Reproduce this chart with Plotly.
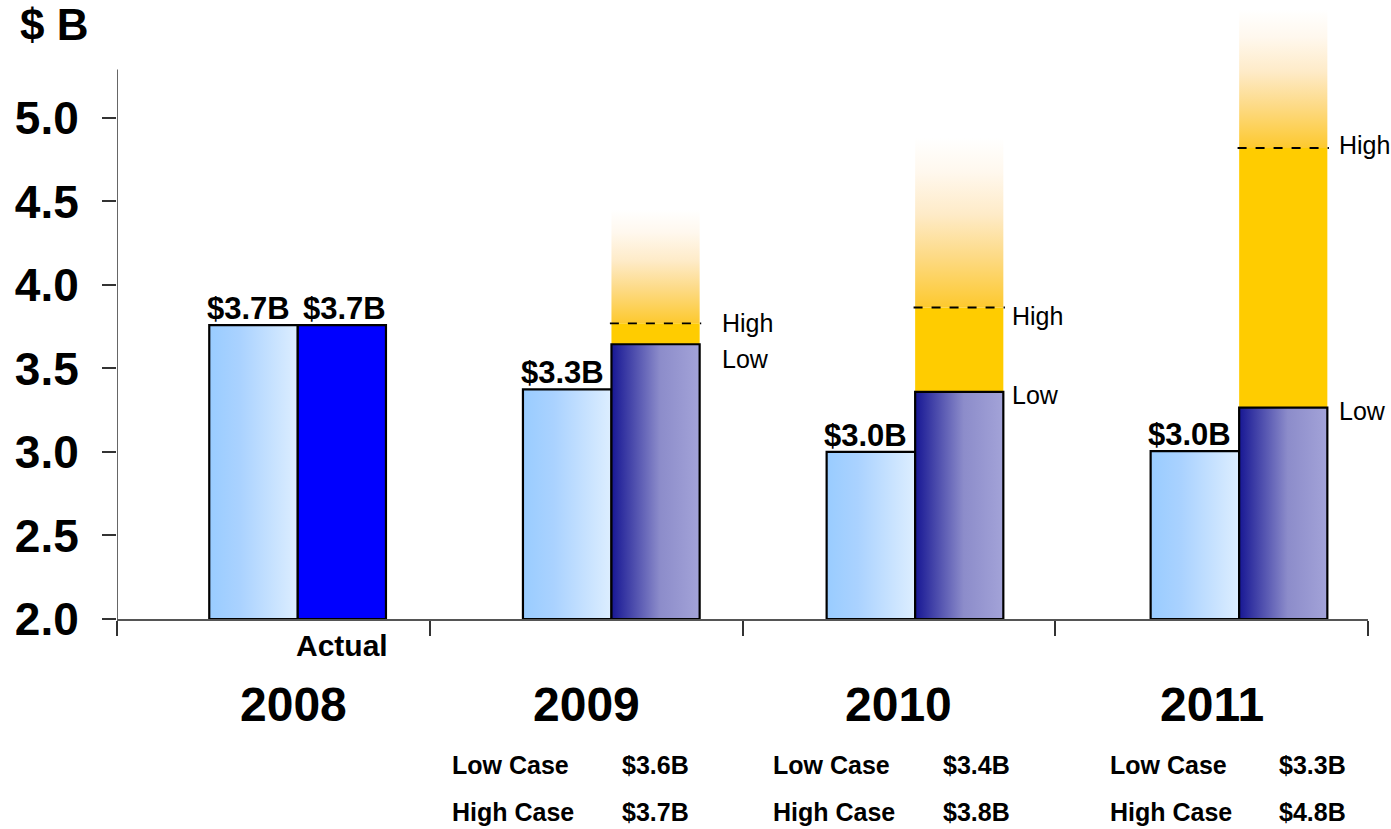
import plotly.graph_objects as go

# data
years = ["2008", "2009", "2010", "2011"]
prior_plan = [3.76, 3.375, 3.0, 3.005]          # light blue bars
prior_labels = ["$3.7B", "$3.3B", "$3.0B", "$3.0B"]
actual_2008 = 3.76
actual_label = "$3.7B"
low_case = [3.645, 3.36, 3.265]                 # 2009..2011 forecast bars
high_case = [3.77, 3.865, 4.82]
fade_top = [4.45, 4.88, 5.65]
low_case_text = ["$3.6B", "$3.4B", "$3.3B"]
high_case_text = ["$3.7B", "$3.8B", "$4.8B"]

FONT = "Liberation Sans, Arial, sans-serif"
YELLOW = "#FFCC00"

# bar geometry (category units), plus small per-year nudges seen in the original
L0, L1, D1 = -0.205, 0.078, 0.36
bar_shift = [0.0, 0.003, -0.026, 0.01]


def rect(x0, x1, y0, y1, **kw):
    return go.Scatter(x=[x0, x1, x1, x0, x0], y=[y0, y0, y1, y1, y0],
                      mode="lines", fill="toself", hoverinfo="skip",
                      showlegend=False, **kw)


fig = go.Figure()

light_grad = dict(type="horizontal",
                  colorscale=[[0, "#99CCFF"], [0.35, "#AAD2FF"], [1, "#DDEEFF"]])
dark_grad = dict(type="horizontal",
                 colorscale=[[0, "#171794"], [0.55, "#8C8CCA"], [1, "#A3A3D8"]])
fade_grad = dict(type="vertical",
                 colorscale=[[0, "#FDC92E"], [0.3, "#FDDA85"], [0.55, "#FEEBC8"],
                             [0.8, "#FFF8EE"], [1, "#FFFFFF"]])

# yellow range between low and high case, fading above the high case
for k in range(len(low_case)):
    c = k + 1 + bar_shift[k + 1]
    fig.add_trace(rect(c + L1, c + D1, low_case[k], high_case[k],
                       fillcolor=YELLOW, line=dict(width=0)))
    fig.add_trace(rect(c + L1, c + D1, high_case[k], fade_top[k],
                       fillgradient=fade_grad, line=dict(width=0)))

# light blue bars
for i, v in enumerate(prior_plan):
    c = i + bar_shift[i]
    fig.add_trace(rect(c + L0, c + L1, 2.0, v, fillgradient=light_grad,
                       line=dict(color="black", width=2.2)))

# 2008 actual
fig.add_trace(rect(L1, D1, 2.0, actual_2008, fillcolor="#0000FF",
                   line=dict(color="black", width=2.2)))

# forecast (low case) bars
for k, v in enumerate(low_case):
    c = k + 1 + bar_shift[k + 1]
    fig.add_trace(rect(c + L1, c + D1, 2.0, v, fillgradient=dark_grad,
                       line=dict(color="black", width=2.2)))

# dashed high-case markers
for k, v in enumerate(high_case):
    c = k + 1 + bar_shift[k + 1]
    fig.add_trace(go.Scatter(x=[c + L1 - 0.005, c + D1 + 0.005], y=[v, v], mode="lines",
                             line=dict(color="black", width=1.8, dash="dash"),
                             hoverinfo="skip", showlegend=False))

ann = []
bold = dict(family=FONT, color="black", weight="bold")

# value labels above bars
for i, v in enumerate(prior_plan):
    c = i + bar_shift[i]
    ann.append(dict(x=c + (L0 + L1) / 2, y=v, text=prior_labels[i], showarrow=False,
                    xanchor="center", yanchor="bottom", xshift=-5, yshift=-3,
                    font=dict(size=31, **bold)))
ann.append(dict(x=(L1 + D1) / 2, y=actual_2008, text=actual_label, showarrow=False,
                xanchor="center", yanchor="bottom", xshift=3, yshift=-3,
                font=dict(size=31, **bold)))
ann.append(dict(x=(L1 + D1) / 2, y=0, yref="paper", text="Actual", showarrow=False,
                xanchor="center", yanchor="middle", yshift=-26,
                font=dict(size=30, **bold)))

# High / Low tags
high_dx, high_dy = [20, 7, 10], [0, -9, 3]
low_dx, low_dy = [20, 7, 10], [-15, -3, -3]
for k in range(len(low_case)):
    c = k + 1 + bar_shift[k + 1]
    ann.append(dict(x=c + D1, y=high_case[k], text="High", showarrow=False,
                    xanchor="left", yanchor="middle", xshift=high_dx[k], yshift=high_dy[k],
                    font=dict(family=FONT, size=25, color="black")))
    ann.append(dict(x=c + D1, y=low_case[k], text="Low", showarrow=False,
                    xanchor="left", yanchor="middle", xshift=low_dx[k], yshift=low_dy[k],
                    font=dict(family=FONT, size=25, color="black")))

# year labels
year_dx = [20, 0, 0, 0]
for i, yr in enumerate(years):
    ann.append(dict(x=i, y=0, yref="paper", text=yr, showarrow=False,
                    xanchor="center", yanchor="middle", xshift=year_dx[i], yshift=-85,
                    font=dict(size=48, **bold)))

# low / high case table
case_label_x = [0.565, 1.592, 2.668]
case_value_x = [1.108, 2.135, 3.209]
for k in range(len(low_case_text)):
    for txt, x, dy in [("Low Case", case_label_x[k], -146),
                       ("High Case", case_label_x[k], -193),
                       (low_case_text[k], case_value_x[k], -146),
                       (high_case_text[k], case_value_x[k], -193)]:
        ann.append(dict(x=x, y=0, yref="paper", text=txt, showarrow=False,
                        xanchor="left", yanchor="middle", yshift=dy,
                        font=dict(size=25, **bold)))

# unit label
ann.append(dict(x=-0.0791, xref="paper", y=1, yref="paper", text="$ B", showarrow=False,
                xanchor="left", yanchor="top", yshift=3,
                font=dict(size=44, **bold)))

fig.update_layout(
    annotations=ann,
    width=1391, height=829,
    margin=dict(l=117, r=23, t=1, b=210),
    plot_bgcolor="white", paper_bgcolor="white",
    showlegend=False,
    shapes=[dict(type="line", xref="x", yref="y", x0=-0.5, x1=-0.5, y0=2.0, y1=5.29,
                 line=dict(color="#333333", width=1.5), layer="above")],
)
fig.update_xaxes(range=[-0.5, 3.5], showline=True, linecolor="#555555", linewidth=1.5,
                 tickvals=[-0.5, 0.5, 1.5, 2.5, 3.5], ticks="outside", ticklen=15,
                 tickwidth=1.5, tickcolor="#333333", showticklabels=False,
                 showgrid=False, zeroline=False)
fig.update_yaxes(range=[2.0, 5.7], showline=False,
                 tickvals=[2.0, 2.5, 3.0, 3.5, 4.0, 4.5, 5.0],
                 ticktext=["2.0", "2.5", "3.0", "3.5", "4.0", "4.5", "5.0"],
                 ticks="outside", ticklen=14, tickwidth=1.5, tickcolor="#333333",
                 ticklabelstandoff=14,
                 tickfont=dict(family=FONT, size=46, color="black", weight="bold"),
                 showgrid=False, zeroline=False)

# page body has a default margin; drop it so the figure fills the window
fig.write_html("out.html", config={"displayModeBar": False},
               post_script="document.body.style.margin='0';")
